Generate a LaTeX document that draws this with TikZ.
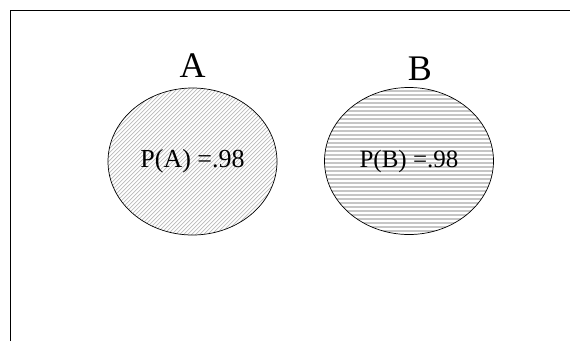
\documentclass[tikz,border=0pt]{standalone}
\usepackage{fontspec}
\setmainfont{Liberation Serif}
\usetikzlibrary{shapes.geometric,positioning}

\begin{document}
\begin{tikzpicture}[x=1pt,y=1pt,
  set node/.style={ellipse,draw,line width=0.7pt,inner sep=0pt,
    minimum width=169pt,minimum height=147pt},
  diag hatch/.style={path picture={
    \foreach \i in {-172,-168,...,172}
      \draw[gray!55,line width=0.7pt]
        ([shift={({\i-80},-80)}]path picture bounding box.center) -- ++(160,160);}},
  flat hatch/.style={path picture={
    \foreach \j in {-78,-74,...,78}
      \draw[gray!45,line width=1.8pt]
        ([shift={(-90,\j)}]path picture bounding box.center) -- ++(180,0);}},
  set label/.style={inner sep=0pt,font=\fontsize{36}{40}\selectfont}]

  \useasboundingbox (0,0) rectangle (571,-341);
  \draw[line width=0.8pt] (10,-341) -- (10,-10) -- (570,-10);

  \node[set node,diag hatch,font=\fontsize{26}{30}\selectfont] (setA) at (192.5,-161.5) {P(A) =.98};
  \node[set node,flat hatch,font=\fontsize{25}{30}\selectfont] (setB) at (409,-161) {P(B) =.98};

  \node[set label] (labA) [above=10pt of setA] {A};
  \node[set label] (labB) [above=6pt of setB,xshift=11pt] {B};
\end{tikzpicture}
\end{document}
